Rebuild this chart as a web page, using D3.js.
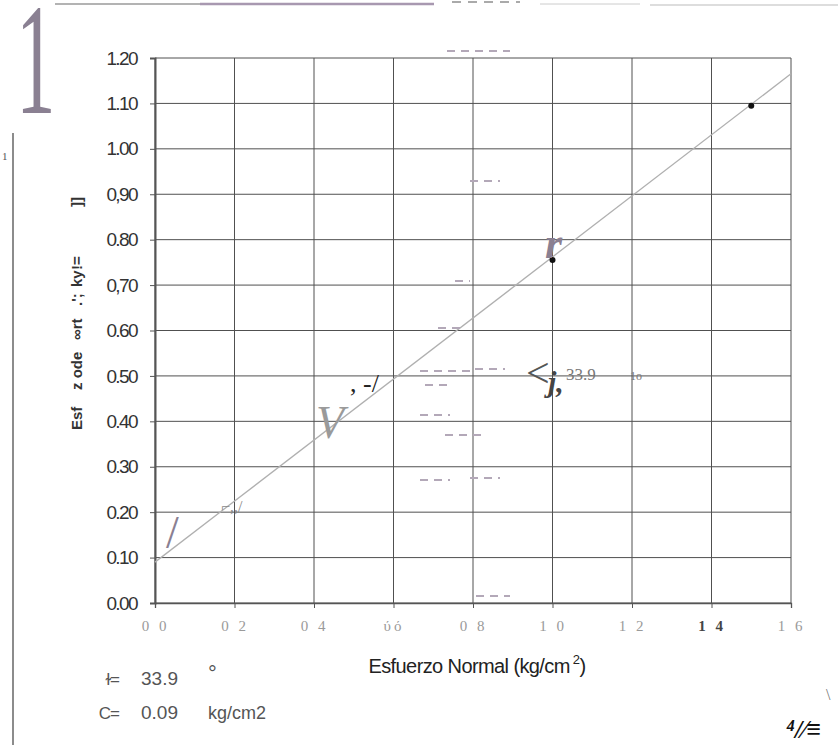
<!DOCTYPE html>
<html>
<head>
<meta charset="utf-8">
<script src="https://cdn.jsdelivr.net/npm/d3@7"></script>
<style>
  body { margin: 0; background: #fff; }
  svg { display: block; }
</style>
</head>
<body>
<div id="main"></div>
<script>
// ensayo de corte directo: envolvente de falla
const phiDeg = 33.9;
const cohesion = 0.09;
const normalStress = [1.0, 1.5];
const shearStress = [0.755, 1.095];

const xTicks = [0, 0.2, 0.4, 0.6, 0.8, 1.0, 1.2, 1.4, 1.6];
const xTickLabels = ['0 0', '0 2', '0 4', 'ύό', '0 8', '1 0', '1 2', '1 4', '1 6'];
const yTicks = d3.range(0, 13).map(d => d / 10);
const yTickLabels = ['0.00', '0.10', '0.20', '0.30', '0.40', '0.50', '0.60',
  '0,70', '0.80', '0,90', '1.00', '1.10', '1.20'];

// trozos del titulo vertical tal como quedaron en el escaneo
const yTitleParts = ['Esf', 'z ode', '∞rt', ".';", 'ky', '!=', ']]'];
const yTitleOffsets = [0, 40, 90, 124, 143, 160, 223];

const width = 838;
const height = 745;

const svg = d3.select('#main')
  .append('svg')
    .attr('width', width)
    .attr('height', height);

const x = d3.scaleLinear()
    .domain([0, 1.6])
    .range([155, 791]);

const y = d3.scaleLinear()
    .domain([0, 1.2])
    .range([603, 58]);

// grid
svg.append('g')
    .attr('stroke', '#505050')
    .attr('stroke-width', 1)
  .call(g => g.selectAll('.hgrid')
    .data(yTicks)
    .join('line')
      .attr('x1', x(0)).attr('x2', x(1.6))
      .attr('y1', d => y(d)).attr('y2', d => y(d)))
  .call(g => g.selectAll('.vgrid')
    .data(xTicks)
    .join('line')
      .attr('x1', d => x(d)).attr('x2', d => x(d))
      .attr('y1', y(0)).attr('y2', y(1.2)));

// axes
const yAxis = d3.axisLeft(y)
    .tickValues(yTicks)
    .tickSize(5)
    .tickPadding(13)
    .tickFormat((d, i) => yTickLabels[i]);

svg.append('g')
    .attr('transform', `translate(${x(0)},0)`)
    .call(yAxis)
    .call(g => g.select('.domain').attr('stroke', '#555').attr('stroke-width', 2))
    .call(g => g.selectAll('.tick line').attr('stroke', '#555'))
    .call(g => g.selectAll('.tick text')
      .attr('fill', '#333')
      .attr('font-family', 'Liberation Sans, Arial, sans-serif')
      .attr('font-size', 19)
      .attr('letter-spacing', -1.6));

const xAxis = d3.axisBottom(x)
    .tickValues(xTicks)
    .tickSize(5)
    .tickPadding(12)
    .tickFormat((d, i) => xTickLabels[i]);

svg.append('g')
    .attr('transform', `translate(0,${y(0)})`)
    .call(xAxis)
    .call(g => g.select('.domain').attr('stroke', '#555').attr('stroke-width', 1.3))
    .call(g => g.selectAll('.tick line').attr('stroke', '#555'))
    .call(g => g.selectAll('.tick text')
      .attr('fill', (d, i) => i === 7 ? '#444' : '#9a9a9a')
      .attr('font-weight', (d, i) => i === 7 ? 'bold' : 'normal')
      .attr('font-family', 'Liberation Serif, serif')
      .attr('font-size', 15)
      .attr('letter-spacing', 3));

// envolvente de falla
const tanPhi = Math.tan(phiDeg * Math.PI / 180);
const envelope = [0, 1.6].map(s => ({s, t: cohesion + s * tanPhi}));

svg.append('path')
    .datum(envelope)
    .attr('fill', 'none')
    .attr('stroke', '#b0b0b0')
    .attr('stroke-width', 1.3)
    .attr('d', d3.line().x(d => x(d.s)).y(d => y(d.t)));

svg.append('g')
  .selectAll('circle')
  .data(normalStress.map((s, i) => ({s, t: shearStress[i]})))
  .join('circle')
    .attr('cx', d => x(d.s))
    .attr('cy', d => y(d.t))
    .attr('r', 3)
    .attr('fill', '#111');

// titulos
const xTitle = svg.append('text')
    .attr('x', 477)
    .attr('y', 673)
    .attr('text-anchor', 'middle')
    .attr('font-family', 'Liberation Sans, Arial, sans-serif')
    .attr('font-size', 20)
    .attr('letter-spacing', -0.6)
    .attr('fill', '#222');
xTitle.append('tspan').text('Esfuerzo Normal (kg/cm');
xTitle.append('tspan').attr('dy', -9).attr('font-size', 13).text(' 2');
xTitle.append('tspan').attr('dy', 9).text(')');

svg.append('g')
    .attr('transform', 'translate(82,430) rotate(-90)')
    .attr('font-family', 'Liberation Sans, Arial, sans-serif')
    .attr('font-weight', 'bold')
    .attr('font-size', 15)
    .attr('fill', '#333')
  .selectAll('text')
  .data(yTitleParts)
  .join('text')
    .attr('x', (d, i) => yTitleOffsets[i])
    .text(d => d);

// resultados
const results = [
  {label: 'ɫ=', value: '33.9', unit: '°', y: 685},
  {label: 'C=', value: '0.09', unit: 'kg/cm2', y: 719}
];

const res = svg.append('g')
    .attr('font-family', 'Liberation Sans, Arial, sans-serif')
    .attr('fill', '#555');

res.selectAll('.lab')
  .data(results)
  .join('text')
    .attr('x', 119).attr('y', d => d.y)
    .attr('text-anchor', 'end')
    .attr('font-size', 17)
    .attr('letter-spacing', -1)
    .text(d => d.label);

res.selectAll('.val')
  .data(results)
  .join('text')
    .attr('x', 141).attr('y', d => d.y)
    .attr('font-size', 19)
    .text(d => d.value);

res.selectAll('.unit')
  .data(results)
  .join('text')
    .attr('x', 208).attr('y', d => d.y)
    .attr('font-size', d => d.unit === '°' ? 22 : 18)
    .attr('dy', d => d.unit === '°' ? -4 : 0)
    .text(d => d.unit);

// marcas del escaneo
const scan = svg.append('g');

scan.append('text')
    .attr('transform', 'translate(16,113) scale(0.5,1)')
    .attr('font-family', 'Liberation Serif, serif')
    .attr('font-size', 158)
    .attr('fill', '#8a8092')
    .text('1');

scan.append('text')
    .attr('x', 2).attr('y', 160)
    .attr('font-family', 'Liberation Serif, serif')
    .attr('font-size', 11)
    .attr('fill', '#555')
    .text('1');

scan.append('line')
    .attr('x1', 13).attr('x2', 13).attr('y1', 133).attr('y2', 745)
    .attr('stroke', '#8c8c8c').attr('stroke-width', 2);

scan.append('line')
    .attr('x1', 55).attr('x2', 200).attr('y1', 4).attr('y2', 4)
    .attr('stroke', '#9a9a9a').attr('stroke-width', 1.5);
scan.append('line')
    .attr('x1', 200).attr('x2', 434).attr('y1', 4).attr('y2', 4)
    .attr('stroke', '#a898b0').attr('stroke-width', 2.5);
scan.append('line')
    .attr('x1', 452).attr('x2', 520).attr('y1', 2).attr('y2', 2)
    .attr('stroke', '#aaa').attr('stroke-width', 2).attr('stroke-dasharray', '9,7');
scan.append('line')
    .attr('x1', 540).attr('x2', 640).attr('y1', 4).attr('y2', 4)
    .attr('stroke', '#ccc').attr('stroke-width', 1);
scan.append('line')
    .attr('x1', 650).attr('x2', 838).attr('y1', 5).attr('y2', 5)
    .attr('stroke', '#bbb').attr('stroke-width', 1);

const dashes = [
  [447, 510, 51], [470, 500, 181], [455, 470, 281], [438, 460, 328],
  [420, 470, 371], [475, 505, 369], [425, 450, 385], [420, 450, 415],
  [445, 485, 435], [420, 450, 480], [470, 500, 478], [476, 510, 596]
];
scan.append('g')
    .attr('stroke', '#b3a8b8')
    .attr('stroke-width', 2)
    .attr('stroke-dasharray', '8,6')
  .selectAll('line')
  .data(dashes)
  .join('line')
    .attr('x1', d => d[0]).attr('x2', d => d[1])
    .attr('y1', d => d[2]).attr('y2', d => d[2]);

const scribbles = [
  {t: 'r', x: 545, y: 258, size: 44, fill: '#8a8092', style: 'italic', weight: 'bold'},
  {t: 'V', x: 316, y: 438, size: 46, fill: '#9a9a9a', style: 'italic', weight: 'normal'},
  {t: ', -/', x: 350, y: 392, size: 26, fill: '#222', style: 'normal', weight: 'normal'},
  {t: '<', x: 526, y: 387, size: 42, fill: '#555', style: 'normal', weight: 'normal'},
  {t: 'j,', x: 548, y: 392, size: 30, fill: '#444', style: 'italic', weight: 'bold'},
  {t: '33.9', x: 566, y: 380, size: 17, fill: '#777', style: 'normal', weight: 'normal'},
  {t: '1o', x: 630, y: 380, size: 12, fill: '#777', style: 'normal', weight: 'normal'},
  {t: '⌐,,/', x: 221, y: 512, size: 16, fill: '#888', style: 'normal', weight: 'normal'},
  {t: '/', x: 166, y: 548, size: 46, fill: '#8a8092', style: 'normal', weight: 'normal'},
  {t: '⁴/⁄≡', x: 786, y: 738, size: 26, fill: '#111', style: 'italic', weight: 'bold'},
  {t: '\\', x: 826, y: 700, size: 16, fill: '#777', style: 'normal', weight: 'normal'}
];

scan.selectAll('.scribble')
  .data(scribbles)
  .join('text')
    .attr('x', d => d.x).attr('y', d => d.y)
    .attr('font-family', 'Liberation Serif, serif')
    .attr('font-size', d => d.size)
    .attr('font-style', d => d.style)
    .attr('font-weight', d => d.weight)
    .attr('fill', d => d.fill)
    .text(d => d.t);
</script>
</body>
</html>
